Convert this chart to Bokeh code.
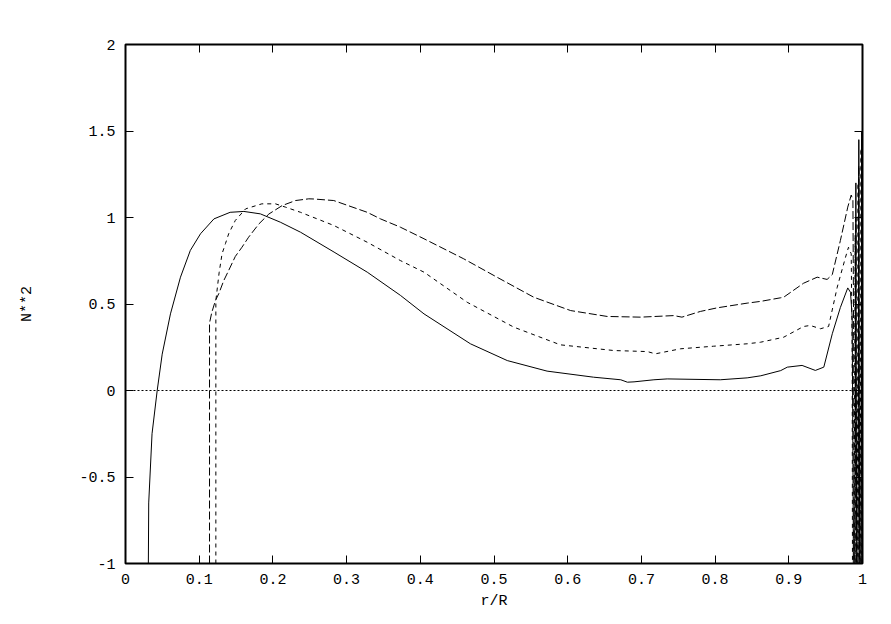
from bokeh.plotting import figure
from bokeh.models import LinearAxis, FixedTicker, CustomJSTickFormatter, Span, Range1d
from bokeh.embed import file_html
from bokeh.resources import INLINE

# ---- data ----
x_ticks = [0, 0.1, 0.2, 0.3, 0.4, 0.5, 0.6, 0.7, 0.8, 0.9, 1.0]
y_ticks = [-1, -0.5, 0, 0.5, 1, 1.5, 2]

r_solid = [0.031, 0.0315, 0.036, 0.043, 0.0498, 0.061, 0.0746, 0.088, 0.1018, 0.12,
           0.142, 0.1606, 0.183, 0.21, 0.2375, 0.283, 0.328, 0.373, 0.405, 0.468,
           0.518, 0.572, 0.635, 0.672, 0.681, 0.69, 0.717, 0.735, 0.807, 0.8435,
           0.862, 0.889, 0.898, 0.918, 0.936, 0.9475, 0.959, 0.970, 0.980, 0.9837,
           0.986, 0.9875, 0.988, 0.991, 0.993, 0.995, 0.997, 0.999, 1.0]
n2_solid = [-1.0, -0.65, -0.25, 0.0, 0.21, 0.443, 0.655, 0.81, 0.906, 0.992,
            1.03, 1.035, 1.021, 0.973, 0.915, 0.80, 0.684, 0.55, 0.443, 0.27,
            0.173, 0.112, 0.077, 0.062, 0.048, 0.05, 0.062, 0.067, 0.062, 0.073,
            0.085, 0.115, 0.135, 0.145, 0.116, 0.135, 0.328, 0.48, 0.593, 0.568,
            0.424, -0.8, -3.0, 1.2, -3.0, 1.45, -3.0, 1.5, -3.0]

r_mid = [0.1226, 0.1226, 0.127, 0.131, 0.1357, 0.14, 0.149, 0.163, 0.185, 0.2035,
         0.217, 0.2375, 0.2826, 0.328, 0.373, 0.405, 0.4636, 0.527, 0.59, 0.6626,
         0.708, 0.719, 0.753, 0.798, 0.8435, 0.8616, 0.893, 0.920, 0.929, 0.943,
         0.954, 0.9657, 0.977, 0.981, 0.9847, 0.986, 0.987, 0.990, 0.992, 0.994,
         0.996, 0.998, 1.0]
n2_mid = [-1.0, 0.52, 0.68, 0.79, 0.85, 0.906, 0.983, 1.05, 1.079, 1.079,
          1.06, 1.03, 0.954, 0.857, 0.751, 0.684, 0.51, 0.366, 0.264, 0.231,
          0.225, 0.212, 0.241, 0.256, 0.27, 0.279, 0.308, 0.37, 0.376, 0.357,
          0.37, 0.597, 0.771, 0.828, 0.79, 0.2, -3.0, 0.9, -3.0, 1.2,
          -3.0, 1.4, -3.0]

r_top = [0.114, 0.114, 0.117, 0.122, 0.1266, 0.1334, 0.14, 0.149, 0.158, 0.167,
         0.181, 0.1945, 0.2126, 0.2307, 0.2487, 0.2555, 0.2826, 0.328, 0.346, 0.373,
         0.405, 0.459, 0.504, 0.554, 0.604, 0.6536, 0.699, 0.744, 0.755, 0.78,
         0.803, 0.8435, 0.8616, 0.889, 0.893, 0.920, 0.9385, 0.952, 0.959, 0.970,
         0.980, 0.9847, 0.987, 0.988, 0.989, 0.991, 0.993, 0.995, 0.997, 0.999, 1.0]
n2_top = [-1.0, 0.39, 0.45, 0.52, 0.56, 0.636, 0.694, 0.775, 0.828, 0.886,
          0.963, 1.02, 1.069, 1.098, 1.108, 1.107, 1.098, 1.03, 0.992, 0.944,
          0.877, 0.761, 0.655, 0.539, 0.462, 0.428, 0.424, 0.433, 0.424, 0.457,
          0.478, 0.505, 0.515, 0.536, 0.539, 0.62, 0.655, 0.642, 0.67, 0.867,
          1.06, 1.13, 1.098, 0.3, -3.0, 1.0, -3.0, 1.3, -3.0, 1.45, -3.0]

FONT = "Liberation Mono"
FS = "15px"

p = figure(frame_width=737, frame_height=519,
           min_border_left=125, min_border_right=13, min_border_top=44, min_border_bottom=48,
           x_range=Range1d(0, 1), y_range=Range1d(-1, 2),
           output_backend="svg", toolbar_location=None, background_fill_color="white",
           x_axis_label="r/R", y_axis_label="N**2")

p.grid.visible = False
p.outline_line_color = "black"
p.outline_line_width = 2

fmt = CustomJSTickFormatter(code="return String(Math.round(tick*10)/10);")
blank = CustomJSTickFormatter(code="return '';")

for ax in p.xaxis + p.yaxis:
    ax.axis_line_color = None
    ax.major_tick_in = 8
    ax.major_tick_out = 0
    ax.minor_tick_line_color = None
    ax.major_tick_line_color = "black"
    ax.major_tick_line_width = 1
    ax.formatter = fmt
    ax.major_label_text_font = FONT
    ax.major_label_text_font_size = FS
    ax.major_label_text_color = "black"
    ax.axis_label_text_font = FONT
    ax.axis_label_text_font_size = FS
    ax.axis_label_text_font_style = "normal"
    ax.axis_label_text_color = "black"

p.xaxis.ticker = FixedTicker(ticks=x_ticks)
p.yaxis.ticker = FixedTicker(ticks=y_ticks)
p.xaxis.major_label_standoff = 10
p.xaxis.axis_label_standoff = 6
p.yaxis.major_label_standoff = 10
p.yaxis.axis_label_standoff = 40

for loc, tk in (("right", y_ticks), ("above", x_ticks)):
    ax = LinearAxis(ticker=FixedTicker(ticks=tk), formatter=blank,
                    axis_line_color=None, major_tick_in=8, major_tick_out=0,
                    minor_tick_line_color=None, major_tick_line_color="black",
                    major_label_text_font_size="1px", major_label_standoff=0)
    p.add_layout(ax, loc)

p.add_layout(Span(location=0, dimension="width", line_color="black",
                  line_width=1, line_dash="2 2"))

p.line(r_solid, n2_solid, line_color="black", line_width=1)
p.line(r_mid, n2_mid, line_color="black", line_width=1, line_dash="4 4")
p.line(r_top, n2_top, line_color="black", line_width=1, line_dash="8 3")

open("out.html", "w").write(file_html(p, INLINE))
